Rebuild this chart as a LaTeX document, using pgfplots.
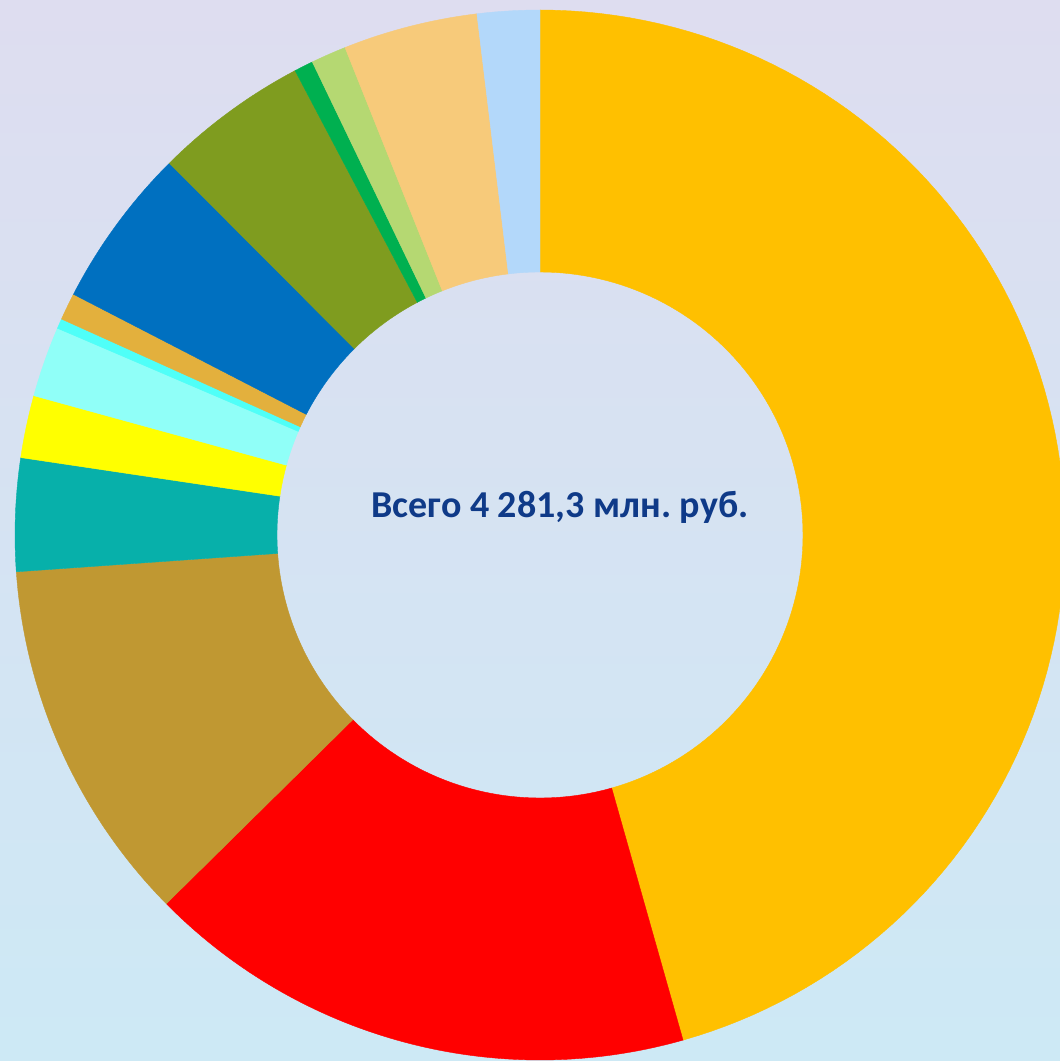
\documentclass[border=0pt]{standalone}
\usepackage{pgfplots}
\pgfplotsset{compat=1.18}
\usepackage{pgfplotstable}
\usepackage{fontspec}
\setmainfont{Carlito}
\definecolor{cA}{HTML}{FFC000}
\definecolor{cB}{HTML}{FF0000}
\definecolor{cC}{HTML}{C09832}
\definecolor{cD}{HTML}{07B0AA}
\definecolor{cE}{HTML}{FFFF00}
\definecolor{cF}{HTML}{90FFF8}
\definecolor{cG}{HTML}{4FFFF8}
\definecolor{cH}{HTML}{E3B03D}
\definecolor{cI}{HTML}{0070C0}
\definecolor{cJ}{HTML}{7F9C1F}
\definecolor{cK}{HTML}{00B050}
\definecolor{cL}{HTML}{B5D872}
\definecolor{cM}{HTML}{F7CA7A}
\definecolor{cN}{HTML}{B3D8FA}
\definecolor{bgtop}{HTML}{DEDDF0}
\definecolor{bgbot}{HTML}{CDE9F5}
\definecolor{txtcol}{HTML}{0F3A88}
\pgfplotstableread{
value col
1952.8 cA
727.8 cB
482.8 cC
148.7 cD
82.1 cE
92.8 cF
13.1 cG
35.7 cH
211.7 cI
203.4 cJ
25.0 cK
46.4 cL
177.2 cM
82.1 cN
}\slices
\begin{document}
\begin{tikzpicture}
\pgfplotstablegetrowsof{\slices}
\pgfmathtruncatemacro\N{\pgfplotsretval-1}
\def\total{0}
\pgfplotsforeachungrouped \i in {0,...,\N}{%
  \pgfplotstablegetelem{\i}{value}\of\slices
  \pgfmathsetmacro\total{\total+\pgfplotsretval}%
}
\def\Ro{525}\def\Ri{263}
\begin{axis}[
  x=0.5pt, y=0.5pt, xmin=-540, xmax=520, ymin=-526, ymax=535,
  scale only axis, ticks=none, axis line style={draw=none},
  axis background/.style={shade, top color=bgtop, bottom color=bgbot},
  clip=true,
]
\def\cum{0}
\pgfplotsforeachungrouped \i in {0,...,\N}{%
  \pgfplotstablegetelem{\i}{value}\of\slices \let\valV\pgfplotsretval
  \pgfplotstablegetelem{\i}{col}\of\slices \let\slcol\pgfplotsretval
  \pgfmathsetmacro\angA{90-(\cum/\total)*360}%
  \pgfmathsetmacro\cum{\cum+\valV}%
  \pgfmathsetmacro\angB{90-(\cum/\total)*360}%
  \edef\temp{\noexpand\addplot[fill=\slcol, draw=\slcol, line width=0.2pt, domain=0:201, samples=202, variable=\noexpand\t]
   ({ifthenelse(\noexpand\t<100.5,\Ro,\Ri)*cos(ifthenelse(\noexpand\t<100.5, \angA+(\angB-\angA)*min(\noexpand\t,100)/100, \angB+(\angA-\angB)*(max(\noexpand\t,101)-101)/100))},
    {ifthenelse(\noexpand\t<100.5,\Ro,\Ri)*sin(ifthenelse(\noexpand\t<100.5, \angA+(\angB-\angA)*min(\noexpand\t,100)/100, \angB+(\angA-\angB)*(max(\noexpand\t,101)-101)/100))}) -- cycle;}%
  \temp
}
\node[font=\bfseries\fontsize{19}{22}\selectfont, text=txtcol] at (axis cs:20,28) {\frenchspacing Всего 4 281,3 млн. руб.};
\end{axis}
\end{tikzpicture}
\end{document}
